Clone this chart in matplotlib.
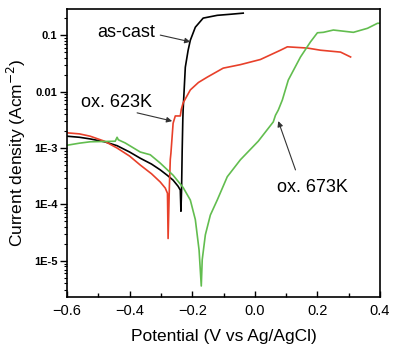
import numpy as np
import matplotlib
matplotlib.use("Agg")
import matplotlib.pyplot as plt
from matplotlib.ticker import FixedLocator, LogLocator, NullFormatter, MultipleLocator

plt.rcParams['font.family'] = ['Liberation Sans', 'DejaVu Sans']

# ---- data (potential V vs Ag/AgCl, current density A/cm^2) ----
E_cast = [-0.600, -0.560, -0.526, -0.480, -0.440, -0.400, -0.366, -0.330, -0.302, -0.280,
          -0.261, -0.245, -0.238, -0.236, -0.234,
          -0.232, -0.230, -0.229, -0.222, -0.213, -0.206, -0.190, -0.165, -0.120, -0.078, -0.037]
i_cast = [1.62e-3, 1.55e-3, 1.45e-3, 1.29e-3, 1.10e-3, 8.5e-4, 6.6e-4, 5.2e-4, 4.1e-4, 3.3e-4,
          2.7e-4, 2.1e-4, 1.8e-4, 7.6e-5, 1.8e-4,
          9.1e-4, 3.2e-3, 4.7e-3, 0.027, 0.054, 0.081, 0.138, 0.200, 0.224, 0.234, 0.245]

E_623 = [-0.600, -0.560, -0.526, -0.480, -0.440, -0.400, -0.366, -0.330, -0.302, -0.286,
         -0.279, -0.277, -0.273, -0.270,
         -0.268, -0.261, -0.254, -0.238, -0.235, -0.229, -0.206, -0.180, -0.152, -0.101, -0.046,
         0.018, 0.082, 0.104, 0.168, 0.210, 0.274, 0.306]
i_623 = [1.86e-3, 1.78e-3, 1.62e-3, 1.32e-3, 1.0e-3, 7.2e-4, 5.0e-4, 3.5e-4, 2.5e-4, 1.95e-4,
         1.58e-4, 2.5e-5, 2.0e-4, 6.3e-4,
         8.1e-4, 2.75e-3, 3.7e-3, 3.7e-3, 4.8e-3, 6.3e-3, 0.0107, 0.0145, 0.018, 0.026, 0.030,
         0.037, 0.054, 0.062, 0.059, 0.054, 0.050, 0.041]

E_673 = [-0.600, -0.560, -0.526, -0.446, -0.440, -0.436, -0.414, -0.366, -0.334, -0.302,
         -0.261, -0.229, -0.206, -0.190, -0.178, -0.171, -0.168, -0.158, -0.142, -0.120,
         -0.088, -0.046, 0.011, 0.059, 0.066, 0.075, 0.088, 0.107, 0.146, 0.178, 0.200,
         0.219, 0.251, 0.315, 0.360, 0.392, 0.400]
i_673 = [1.12e-3, 1.22e-3, 1.29e-3, 1.32e-3, 1.55e-3, 1.40e-3, 1.23e-3, 8.5e-4, 7.6e-4, 5.4e-4,
         3.3e-4, 2.0e-4, 1.2e-4, 5.4e-5, 1.55e-5, 3.6e-6, 1.05e-5, 2.9e-5, 6.5e-5, 1.2e-4,
         3.1e-4, 6.2e-4, 1.32e-3, 2.9e-3, 3.8e-3, 4.7e-3, 7.1e-3, 0.016, 0.041, 0.076, 0.110,
         0.112, 0.123, 0.112, 0.132, 0.162, 0.162]

y_ticks = [1e-5, 1e-4, 1e-3, 1e-2, 1e-1]
y_ticklabels = ['1E-5', '1E-4', '1E-3', '0.01', '0.1']
x_ticks = [-0.6, -0.4, -0.2, 0.0, 0.2, 0.4]

labels = ['as-cast', 'ox. 623K', 'ox. 673K']

# ---- figure ----
fig = plt.figure(figsize=(4.0, 3.6), dpi=100)
ax = fig.add_axes([0.1675, 0.175, 0.7825, 0.80])

ax.plot(E_cast, i_cast, color='black', lw=1.2)
ax.plot(E_623, i_623, color='#e8402a', lw=1.2)
ax.plot(E_673, i_673, color='#62bd4f', lw=1.2)

ax.set_yscale('log')
ax.set_xlim(-0.6, 0.4)
ax.set_ylim(2.3e-6, 0.29)

ax.yaxis.set_major_locator(FixedLocator(y_ticks))
ax.set_yticklabels(y_ticklabels, fontsize=8, fontweight='bold')
ax.yaxis.set_minor_locator(LogLocator(base=10, subs=np.arange(2, 10)))
ax.yaxis.set_minor_formatter(NullFormatter())

ax.set_xticks(x_ticks)
ax.set_xticklabels([f'{v:.1f}'.replace('-', '\u2212') for v in x_ticks], fontsize=10.5)
ax.xaxis.set_minor_locator(MultipleLocator(0.1))

ax.tick_params(axis='x', which='major', direction='in', length=4, width=1.0, pad=5, top=False)
ax.tick_params(axis='x', which='minor', direction='in', length=3, width=1.0, top=False)
ax.tick_params(axis='y', which='major', direction='out', length=5, width=1.0, pad=2, right=False)
ax.tick_params(axis='y', which='minor', direction='out', length=2.5, width=0.8, right=False)

for s in ax.spines.values():
    s.set_linewidth(1.2)

ax.set_xlabel('Potential (V vs Ag/AgCl)', fontsize=12.5, labelpad=8)
ax.set_ylabel('Current density (Acm$^{-2}$)', fontsize=12.5, labelpad=4)

arrow_kw = dict(arrowstyle='-|>', color='#333333', lw=0.8, mutation_scale=8, shrinkA=0, shrinkB=0)
ax.text(-0.411, 0.113, labels[0], fontsize=13, ha='center', va='center')
ax.annotate('', xy=(-0.206, 0.076), xytext=(-0.302, 0.1), arrowprops=arrow_kw)
ax.text(-0.443, 0.0063, labels[1], fontsize=13, ha='center', va='center')
ax.annotate('', xy=(-0.264, 0.0030), xytext=(-0.376, 0.0042), arrowprops=arrow_kw)
ax.text(0.184, 2.04e-4, labels[2], fontsize=13, ha='center', va='center')
ax.annotate('', xy=(0.075, 0.0030), xytext=(0.130, 4.1e-4), arrowprops=arrow_kw)

fig.savefig('out.png', dpi=100)
